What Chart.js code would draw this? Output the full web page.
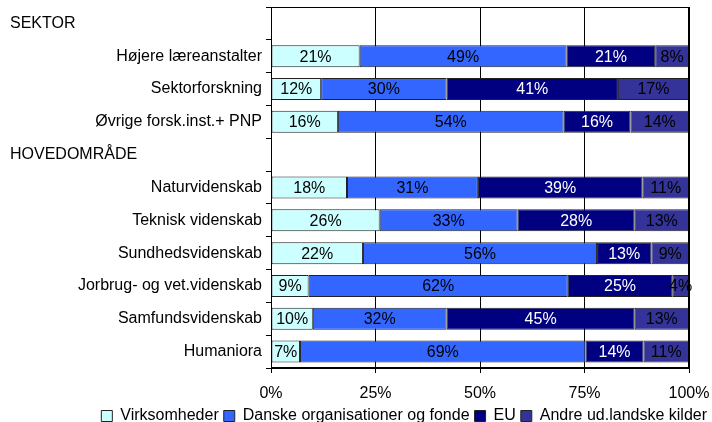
<!DOCTYPE html>
<html>
<head>
<meta charset="utf-8">
<script src="https://cdn.jsdelivr.net/npm/chart.js@4/dist/chart.umd.min.js"></script>
<style>
  html, body { margin: 0; padding: 0; background: #fff; }
  #wrap { width: 712px; height: 422px; }
</style>
</head>
<body>
<div id="wrap"><canvas id="chart" width="712" height="422"></canvas></div>
<script>
// Finansieringskilder fordelt på sektor og hovedområde (andele i %)
const categories = [
    "SEKTOR",
    "Højere læreanstalter",
    "Sektorforskning",
    "Øvrige forsk.inst.+ PNP",
    "HOVEDOMRÅDE",
    "Naturvidenskab",
    "Teknisk videnskab",
    "Sundhedsvidenskab",
    "Jorbrug- og vet.videnskab",
    "Samfundsvidenskab",
    "Humaniora"
];
const headerRows = ["SEKTOR", "HOVEDOMRÅDE"];

const seriesNames = ["Virksomheder", "Danske organisationer og fonde", "EU", "Andre ud.landske kilder"];
const virksomheder = [null, 21, 12, 16, null, 18, 26, 22, 9, 10, 7];
const danske       = [null, 49, 30, 54, null, 31, 33, 56, 62, 32, 69];
const eu           = [null, 21, 41, 16, null, 39, 28, 13, 25, 45, 14];
const andre        = [null, 8, 17, 14, null, 11, 13, 9, 4, 13, 11];

const xTicks = [0, 25, 50, 75, 100];

const FONT = "'Liberation Sans', Arial, sans-serif";
const FS = 16;
const fills = ["#CCFFFF", "#3366FF", "#000080", "#333399"];
const labelColors = ["#000", "#000", "#fff", "#000"];
const allSeries = [virksomheder, danske, eu, andre];

// 100% stablet: hver række skaleres til sin egen sum
const rowSums = categories.map((_, i) => allSeries.reduce((s, arr) => s + (arr[i] || 0), 0));
const asShare = arr => arr.map((v, i) => v === null ? null : v / rowSums[i] * 100);

// Procenttal midt i hvert segment
const valueLabels = {
    id: "valueLabels",
    afterDatasetsDraw(chart) {
        const ctx = chart.ctx;
        ctx.save();
        ctx.font = FS + "px " + FONT;
        ctx.textAlign = "center";
        ctx.textBaseline = "middle";
        chart.data.datasets.forEach((ds, di) => {
            const meta = chart.getDatasetMeta(di);
            meta.data.forEach((bar, i) => {
                const raw = ds.rawValues[i];
                if (raw === null) return;
                const p = bar.getCenterPoint();
                ctx.fillStyle = labelColors[di];
                ctx.fillText(raw + "%", p.x, p.y + 1);
            });
        });
        ctx.restore();
    }
};

// Ramme om plotområdet og venstrestillede overskrifter
const frameAndHeaders = {
    id: "frameAndHeaders",
    afterDraw(chart) {
        const ctx = chart.ctx;
        const a = chart.chartArea;
        const y = chart.scales.y;
        ctx.save();
        ctx.strokeStyle = "#000";
        ctx.lineWidth = 1;
        ctx.strokeRect(Math.round(a.left) + 0.5, Math.round(a.top) + 0.5,
            Math.round(a.right - a.left) - 1, Math.round(a.bottom - a.top) - 1);
        ctx.font = FS + "px " + FONT;
        ctx.fillStyle = "#000";
        ctx.textAlign = "left";
        ctx.textBaseline = "middle";
        categories.forEach((c, i) => {
            if (headerRows.includes(c)) ctx.fillText(c, 10, y.getPixelForValue(i));
        });
        ctx.restore();
    }
};

new Chart(document.getElementById("chart"), {
    type: "bar",
    data: {
        labels: categories,
        datasets: allSeries.map((arr, k) => ({
            label: seriesNames[k],
            data: asShare(arr),
            rawValues: arr,
            backgroundColor: fills[k],
            borderColor: "#222",
            borderWidth: 1,
            borderSkipped: false,
            barPercentage: 0.67,
            categoryPercentage: 1
        }))
    },
    options: {
        indexAxis: "y",
        responsive: false,
        animation: false,
        devicePixelRatio: 1,
        layout: { padding: { top: 7, right: 0, left: 0, bottom: -12 } },
        plugins: {
            tooltip: { enabled: false },
            title: { display: false },
            legend: {
                position: "bottom",
                align: "end",
                labels: {
                    font: { family: FONT, size: FS },
                    color: "#000",
                    boxWidth: 11,
                    boxHeight: 11,
                    padding: 5
                }
            }
        },
        scales: {
            x: {
                stacked: true,
                min: 0,
                max: 100,
                afterBuildTicks: scale => { scale.ticks = xTicks.map(v => ({ value: v })); },
                afterFit: scale => {
                    scale.height = 35;
                    scale.paddingRight = 23;
                },
                ticks: {
                    callback: v => v + "%",
                    font: { family: FONT, size: FS },
                    color: "#000",
                    padding: 11,
                    maxRotation: 0
                },
                grid: { color: "#000", lineWidth: 1, tickLength: 5 },
                border: { color: "#000" }
            },
            y: {
                stacked: true,
                afterFit: scale => {
                    scale.width = 271;
                    scale.paddingTop = 0;
                    scale.paddingBottom = 0;
                },
                ticks: {
                    callback: function (v) {
                        const c = categories[v];
                        return headerRows.includes(c) ? "" : c;
                    },
                    font: { family: FONT, size: FS },
                    color: "#000",
                    padding: 4,
                    autoSkip: false
                },
                grid: { drawOnChartArea: false, color: "#000", tickLength: 5, offset: true },
                border: { color: "#000" }
            }
        }
    },
    plugins: [valueLabels, frameAndHeaders]
});
</script>
</body>
</html>
